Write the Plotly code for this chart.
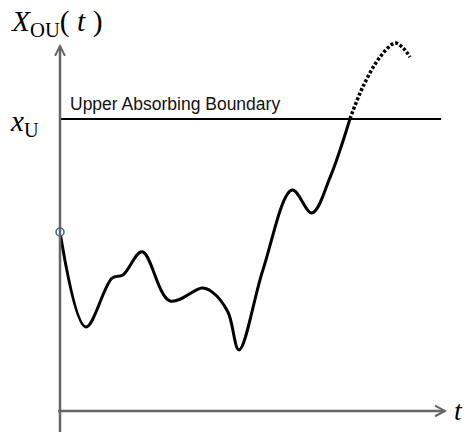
import plotly.graph_objects as go

# path until it first hits the boundary
t_path = [0.0, 0.68, 1.37, 1.66, 2.16, 2.89, 3.74, 4.0, 4.42, 4.71, 5.34, 6.11, 6.63, 7.11, 7.63]
x_path = [6.13, 2.88, 4.55, 4.66, 5.45, 3.77, 4.21, 4.08, 3.39, 2.09, 4.83, 7.57, 6.78, 8.01, 10.0]

# continuation after absorption (dotted)
t_after = [7.63, 7.97, 8.42, 8.82, 9.03, 9.21]
x_after = [10.0, 11.10, 12.12, 12.60, 12.43, 12.12]

x_upper = 10.0
t_end = 10.03

axis_col = "#666666"

fig = go.Figure()

fig.add_trace(go.Scatter(x=t_path, y=x_path, mode="lines",
                         line=dict(color="black", width=3, shape="spline", smoothing=1.0),
                         hoverinfo="skip"))
fig.add_trace(go.Scatter(x=t_after, y=x_after, mode="lines",
                         line=dict(color="black", width=3.5, shape="spline", dash="3px,2px"),
                         hoverinfo="skip"))
fig.add_trace(go.Scatter(x=[t_path[0]], y=[x_path[0]], mode="markers",
                         marker=dict(symbol="circle", size=8, color="white",
                                     line=dict(color="#2f5f9f", width=1.5)),
                         hoverinfo="skip"))

shapes = [
    # boundary
    dict(type="line", x0=0, x1=t_end, y0=x_upper, y1=x_upper,
         line=dict(color="black", width=2)),
    # y axis
    dict(type="line", x0=0, x1=0, y0=-0.72, y1=12.5,
         line=dict(color=axis_col, width=2.5)),
    dict(type="path", path="M -0.13 12.16 L 0 12.5 L 0.13 12.16",
         line=dict(color=axis_col, width=2)),
    # t axis
    dict(type="line", x0=-0.05, x1=10.13, y0=0, y1=0,
         line=dict(color=axis_col, width=2.5)),
    dict(type="path", path="M 9.87 0.18 L 10.13 0 L 9.87 -0.18",
         line=dict(color=axis_col, width=2)),
]

annotations = [
    dict(x=0.2, y=10.5, text="Upper Absorbing Boundary", showarrow=False,
         xanchor="left", yanchor="middle",
         font=dict(family="Liberation Sans", size=17.5, color="#111111")),
    dict(x=-1.35, y=13.3, text="<i>X</i><sub>OU</sub>( <i>t</i> )", showarrow=False,
         xanchor="left", yanchor="middle",
         font=dict(family="Liberation Serif", size=29.5, color="black")),
    dict(x=-1.36, y=9.85, text="<i>x</i><sub>U</sub>", showarrow=False,
         xanchor="left", yanchor="middle",
         font=dict(family="Liberation Serif", size=29, color="black")),
    dict(x=10.32, y=0.0, text="<i>t</i>", showarrow=False,
         xanchor="left", yanchor="middle",
         font=dict(family="Liberation Serif", size=28, color="black")),
]

fig.update_layout(
    width=464, height=434, autosize=False,
    margin=dict(l=0, r=0, t=0, b=0),
    paper_bgcolor="white", plot_bgcolor="white",
    showlegend=False,
    xaxis=dict(range=[-1.579, 10.632], visible=False, fixedrange=True),
    yaxis=dict(range=[-0.788, 14.075], visible=False, fixedrange=True),
    shapes=shapes,
    annotations=annotations,
)

# drop the default 8px page margin so the figure fills the window
fig.write_html("out.html", config={"displayModeBar": False},
               post_script="document.body.style.margin='0';")
